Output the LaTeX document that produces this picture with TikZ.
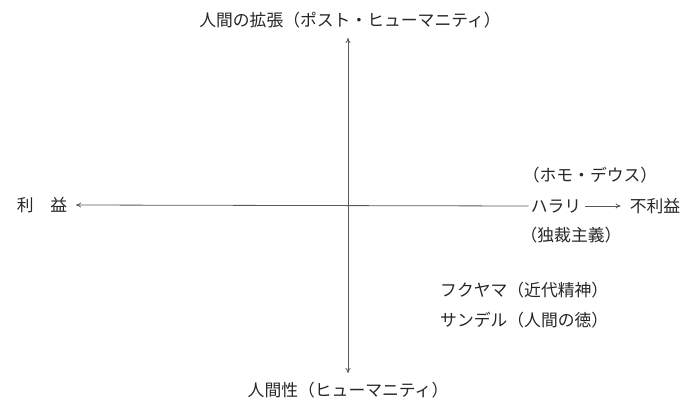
\documentclass[tikz,border=0pt]{standalone}
\usepackage{fontspec}
\newfontfamily\jp{Noto Sans CJK JP}
\usetikzlibrary{arrows.meta}
\begin{document}
\begin{tikzpicture}[x=1pt,y=-1pt,
  lbl/.style={inner sep=0pt,font=\jp\fontsize{16.8}{18}\selectfont,text=black!85},
  axis/.style={draw=black!65,line width=0.8pt,-{To[length=5pt,width=5pt]}},
  axis2/.style={draw=black!65,line width=0.8pt,{To[length=5pt,width=5pt]}-{To[length=5pt,width=5pt]}}]
\useasboundingbox (0,0) rectangle (692,404);
\node[lbl] (top) at (350,20) {人間の拡張（ポスト・ヒューマニティ）};
\node[lbl] (bottom) at (348,390) {人間性（ヒューマニティ）};
\node[lbl] (left) at (42,205) {利　益};
\node[lbl] (harari) at (556,206) {ハラリ};
\node[lbl] (furieki) at (655,206) {不利益};
\node[lbl] (homo) at (590,175) {（ホモ・デウス）};
\node[lbl] (dokusai) at (571,235) {（独裁主義）};
\node[lbl,anchor=west] (fuku) at (440,290) {フクヤマ（近代精神）};
\node[lbl,anchor=west] (sandel) at (440,320) {サンデル（人間の徳）};
\coordinate (vtop) at (348,38);
\coordinate (vbot) at (348,373);
\coordinate (hleft) at (76,205);
\draw[axis2] (vbot) -- (vtop);
\draw[axis] ([xshift=-2pt]harari.west) -- (hleft);
\draw[axis] ([xshift=4pt]harari.east) -- ([xshift=-9pt]furieki.west);
\end{tikzpicture}
\end{document}
